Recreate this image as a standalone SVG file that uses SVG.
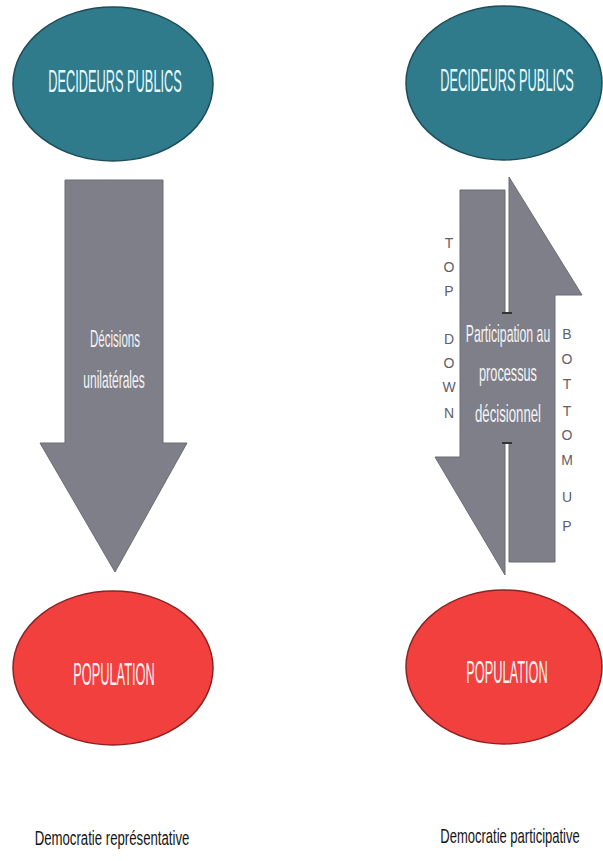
<svg xmlns="http://www.w3.org/2000/svg" width="603" height="861" viewBox="0 0 603 861">
<style>
.teal{fill:#2f7a8b;stroke:#1e4c58;stroke-width:1.5}
.red{fill:#f2403f;stroke:#8a2424;stroke-width:1.5}
.arrow{fill:#7e7f88;stroke:#6b6c73;stroke-width:1}
.t1{font-family:"Liberation Sans",Arial,sans-serif;font-size:32px;fill:#e6fbff;text-anchor:middle}
.t2{font-family:"Liberation Sans",Arial,sans-serif;font-size:32px;fill:#fff2f2;text-anchor:middle}
.ta{font-family:"Liberation Sans",Arial,sans-serif;font-size:24px;fill:#f4f4f6;text-anchor:middle}
.tv{font-family:"Liberation Sans",Arial,sans-serif;font-size:14px;fill:#5f6068;text-anchor:middle}
.tb{font-family:"Liberation Sans",Arial,sans-serif;font-size:20px;fill:#151515;text-anchor:middle}
</style>
<rect width="603" height="861" fill="#ffffff"/>
<g id="connectors">
  <g id="arrow-unilateral">
    <polygon class="arrow" points="65,180 163,180 163,443 187,443 115,572 40,443 65,443"/>
    <text class="ta" transform="translate(115,347) scale(0.48,1)">Décisions</text>
    <text class="ta" transform="translate(114,388) scale(0.5,1)">unilatérales</text>
  </g>
  <g id="arrow-topdown">
    <polygon class="arrow" points="460,190 505,190 505,575 435,457 460,457"/>
  </g>
  <g id="arrow-bottomup">
    <polygon class="arrow" points="509,177 582,295 555,295 555,562 509,562"/>
  </g>
  <rect x="503" y="313" width="8" height="130" fill="#7e7f88"/>
  <line x1="502" y1="313" x2="512" y2="313" stroke="#333" stroke-width="2"/>
  <line x1="502" y1="443" x2="512" y2="443" stroke="#333" stroke-width="2"/>
  <text class="ta" transform="translate(508,342) scale(0.51,1)">Participation au</text>
  <text class="ta" transform="translate(508,381) scale(0.53,1)">processus</text>
  <text class="ta" transform="translate(508,422) scale(0.55,1)">décisionnel</text>
  <g id="label-topdown">
    <text class="tv" x="449" y="248">T</text>
    <text class="tv" x="449" y="272">O</text>
    <text class="tv" x="449" y="296">P</text>
    <text class="tv" x="449" y="344">D</text>
    <text class="tv" x="449" y="368">O</text>
    <text class="tv" x="449" y="392">W</text>
    <text class="tv" x="449" y="418">N</text>
  </g>
  <g id="label-bottomup">
    <text class="tv" x="567" y="339">B</text>
    <text class="tv" x="567" y="364">O</text>
    <text class="tv" x="567" y="389">T</text>
    <text class="tv" x="567" y="416">T</text>
    <text class="tv" x="567" y="440">O</text>
    <text class="tv" x="567" y="465">M</text>
    <text class="tv" x="567" y="502">U</text>
    <text class="tv" x="567" y="531">P</text>
  </g>
</g>
<g id="decideurs-left">
  <ellipse class="teal" cx="113" cy="84" rx="100" ry="77"/>
  <text class="t1" transform="translate(115,92) scale(0.4,1)">DECIDEURS PUBLICS</text>
</g>
<g id="decideurs-right">
  <ellipse class="teal" cx="504" cy="83" rx="98" ry="77"/>
  <text class="t1" transform="translate(507,91) scale(0.4,1)">DECIDEURS PUBLICS</text>
</g>
<g id="population-left">
  <ellipse class="red" cx="113" cy="668" rx="100" ry="77"/>
  <text class="t2" transform="translate(114,685) scale(0.4,1)">POPULATION</text>
</g>
<g id="population-right">
  <ellipse class="red" cx="504" cy="667" rx="98" ry="77"/>
  <text class="t2" transform="translate(507,683) scale(0.4,1)">POPULATION</text>
</g>
<g id="caption-left">
  <text class="tb" transform="translate(112,845) scale(0.66,1)">Democratie représentative</text>
</g>
<g id="caption-right">
  <text class="tb" transform="translate(510,843) scale(0.65,1)">Democratie participative</text>
</g>
</svg>
